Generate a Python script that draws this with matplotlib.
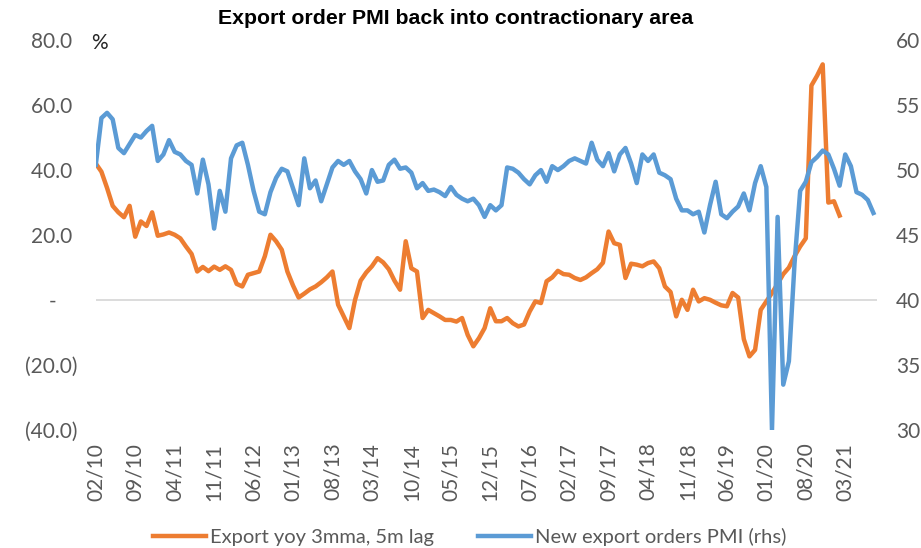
import matplotlib
matplotlib.use("Agg")
import matplotlib.pyplot as plt
import pandas as pd

# monthly categories starting 02/10
months = pd.date_range("2010-02-01", periods=139, freq="MS")
tick_step = 7

# New export orders PMI (rhs), 02/10 .. 08/21
pmi = [50.4, 54.0, 54.4, 53.9, 51.7, 51.3, 52.0, 52.7, 52.5, 53.0,
       53.4, 50.7, 51.2, 52.3, 51.4, 51.2, 50.7, 50.4, 48.2, 50.8,
       48.9, 45.5, 48.4, 46.8, 50.9, 51.9, 52.1, 50.4, 48.4, 46.8,
       46.6, 48.3, 49.4, 50.1, 49.9, 48.6, 47.3, 50.9, 48.6, 49.2,
       47.6, 48.9, 50.2, 50.7, 50.4, 50.7, 49.9, 49.3, 48.2, 50.0,
       49.1, 49.2, 50.4, 50.8, 50.1, 50.2, 49.8, 48.6, 49.0, 48.4,
       48.5, 48.3, 48.0, 48.7, 48.1, 47.8, 47.6, 47.8, 47.3, 46.4,
       47.3, 46.9, 47.3, 50.2, 50.1, 49.8, 49.3, 48.9, 49.6, 50.0,
       49.1, 50.3, 50.0, 50.3, 50.7, 50.9, 50.7, 50.5, 52.1, 50.8,
       50.3, 51.3, 49.9, 51.2, 51.7, 50.5, 49.0, 51.2, 50.7, 51.2,
       49.8, 49.6, 49.3, 47.8, 46.9, 46.9, 46.6, 46.8, 45.2, 47.3,
       49.1, 46.6, 46.3, 46.8, 47.2, 48.2, 46.9, 49.0, 50.3, 48.7,
       30.0, 46.4, 33.5, 35.3, 42.8, 48.4, 49.1, 50.6, 51.0, 51.5,
       51.2, 50.1, 48.8, 51.2, 50.3, 48.3, 48.1, 47.7, 46.7]

# Export yoy 3mma, 5m lag (lhs, %), 02/10 .. 02/21
exports = [42.0, 39.5, 34.5, 29.0, 27.0, 25.5, 29.0, 19.5, 24.2, 22.8,
           27.0, 19.8, 20.2, 20.8, 20.1, 19.0, 16.5, 14.2, 8.8, 10.2,
           8.9, 10.3, 9.3, 10.4, 9.3, 5.0, 4.2, 7.8, 8.3, 8.8,
           13.5, 20.1, 18.1, 15.5, 8.8, 4.5, 0.8, 2.0, 3.3, 4.2,
           5.5, 7.0, 8.8, -1.4, -5.0, -8.6, 0.0, 6.0, 8.5, 10.4,
           12.9, 11.6, 9.5, 6.0, 3.2, 18.1, 9.8, 8.8, -5.5, -3.0,
           -4.0, -5.0, -6.1, -6.1, -6.6, -5.5, -10.7, -14.2, -11.7, -8.6,
           -2.5, -6.5, -6.5, -5.5, -7.1, -8.1, -7.5, -3.5, -0.4, -0.9,
           5.8, 7.0, 9.0, 8.0, 7.8, 6.8, 6.2, 7.0, 8.3, 9.5,
           11.5, 21.1, 17.5, 17.0, 6.8, 11.2, 10.9, 10.4, 11.4, 11.9,
           9.8, 4.2, 2.5, -5.0, 0.1, -3.0, 3.2, -0.4, 0.6, 0.1,
           -0.8, -1.6, -1.9, 2.2, 0.8, -12.0, -17.3, -15.3, -3.0, -0.4,
           2.2, 5.0, 8.0, 10.0, 13.5, 16.5, 19.0, 66.0, 69.0, 72.5,
           30.0, 30.4, 26.0]

left_ticks = [80, 60, 40, 20, 0, -20, -40]
left_labels = ["80.0 ", "60.0 ", "40.0 ", "20.0 ", "-    ", "(20.0)", "(40.0)"]
right_ticks = [60, 55, 50, 45, 40, 35, 30]

ORANGE = "#ED7D31"
BLUE = "#5B9BD5"
GREY = "#595959"

plt.rcParams["font.family"] = ["Lato", "DejaVu Sans"]

fig = plt.figure(figsize=(9.21, 5.48), dpi=100)
ax = fig.add_axes([0.104, 0.215, 0.848, 0.712])
ax2 = ax.twinx()

ax.axhline(0, color="#d9d9d9", lw=1.3, zorder=0)
l1, = ax.plot(range(len(exports)), exports, color=ORANGE, lw=3.2,
              solid_joinstyle="round", label="Export yoy 3mma, 5m lag")
l2, = ax2.plot(range(len(pmi)), pmi, color=BLUE, lw=3.2,
               solid_joinstyle="round", label="New export orders PMI (rhs)")

ax.set_xlim(0, 138.6)
ax.set_ylim(-40, 80)
ax2.set_ylim(30, 60)

ax.set_yticks(left_ticks)
ax.set_yticklabels(left_labels)
ax2.set_yticks(right_ticks)
ax2.set_yticklabels([str(t) for t in right_ticks])

xt = list(range(0, len(pmi), tick_step))
ax.set_xticks(xt)
ax.set_xticklabels([months[i].strftime("%m/%y") for i in xt], rotation=90)

ax.tick_params(axis="y", length=0, pad=13, labelsize=15, labelcolor=GREY)
ax.tick_params(axis="x", length=0, pad=9, labelsize=15, labelcolor=GREY)
ax2.tick_params(axis="y", length=0, pad=14, labelsize=15, labelcolor=GREY)

for a in (ax, ax2):
    for s in a.spines.values():
        s.set_visible(False)

fig.text(0.495, 0.966, "Export order PMI back into contractionary area",
         ha="center", va="center", fontsize=15.3, fontweight="bold",
         family="Liberation Sans")
fig.text(0.108, 0.922, "%", ha="center", va="center", fontsize=15,
         color="#262626")

fig.legend(handles=[l1, l2], loc="center", bbox_to_anchor=(0.51, 0.02),
           ncol=2, frameon=False, fontsize=14.5, handlelength=2.6,
           handletextpad=0.2, columnspacing=2.2, labelcolor=GREY)

fig.savefig("out.png", dpi=100)
